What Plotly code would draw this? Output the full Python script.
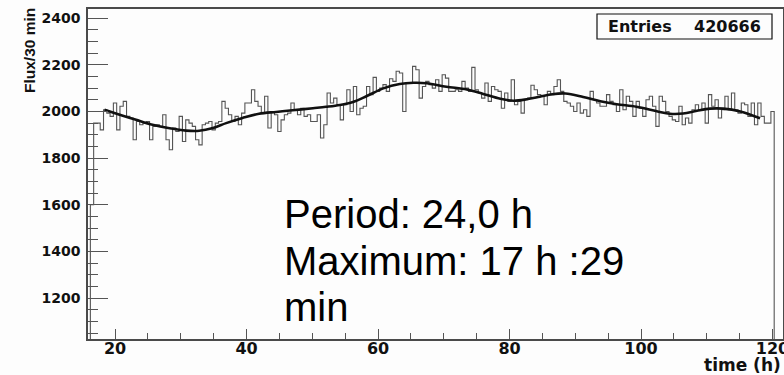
import plotly.graph_objects as go

# Flux histogram: 30-minute bins starting at 16.25 h
bin_start = 16.25
bin_width = 0.5
flux = [
    1600, 1950, 1950, 1921, 2007, 1993, 1979, 2036, 1921, 2022,
    2043, 1979, 1972, 1879, 1957, 1943, 1950, 1957, 1879, 1936,
    1943, 1936, 1986, 1879, 1836, 1929, 1914, 1979, 1871, 1964,
    1950, 1936, 1879, 1857, 1943, 1950, 1957, 1921, 1950, 1957,
    2043, 2014, 1986, 1957, 1979, 1943, 1993, 2036, 2036, 2093,
    2043, 2022, 1993, 2065, 1929, 2000, 1986, 1914, 1964, 1986,
    1993, 2036, 2007, 1986, 2014, 1979, 1986, 1957, 1957, 1986,
    1886, 1943, 2079, 2036, 2057, 2029, 1964, 2029, 2093, 2000,
    2107, 1986, 2014, 2022, 2107, 2072, 2146, 2086, 2100, 2115,
    2086, 2140, 2129, 2172, 2165, 2000, 2122, 2122, 2193, 2179,
    2057, 2107, 2129, 2115, 2100, 2136, 2086, 2157, 2143, 2086,
    2086, 2093, 2086, 2129, 2100, 2086, 2189, 2093, 2079, 2057,
    2122, 2043, 2107, 2093, 2086, 2014, 2079, 2043, 2136, 2029,
    2043, 1993, 2050, 2057, 2112, 2093, 2072, 2065, 2029, 2086,
    2072, 2107, 2136, 2086, 2043, 2036, 2022, 2000, 2036, 1993,
    2007, 1979, 2086, 2050, 2036, 2022, 2022, 2072, 2043, 2029,
    2000, 2093, 2007, 2065, 2043, 1979, 2043, 2014, 1979, 2050,
    2065, 2022, 1936, 2065, 2043, 2000, 1979, 1964, 1957, 2022,
    1943, 1972, 1950, 2007, 2029, 2007, 2036, 1950, 2072, 2022,
    2050, 1972, 2007, 2065, 2007, 2079, 2007, 1993, 2036, 2029,
    1979, 2036, 1943, 2036, 1979, 1950, 1950, 2000,
]

# Periodic fit through the histogram
fit_time = [18.4, 20.7, 23.2, 25.7, 28.3, 30.8, 32.8, 34.9, 36.9, 39.4,
            41.9, 44.5, 47.0, 50.1, 52.1, 54.2, 56.2, 58.3, 60.8, 63.3,
            65.4, 67.4, 70.4, 73.5, 76.0, 78.6, 80.6, 82.6, 84.6, 86.5,
            88.5, 91.2, 93.8, 96.3, 99.3, 102.4, 104.4, 106.4, 108.5, 110.5,
            112.5, 115.1, 118.1]
fit_flux = [2007, 1986, 1964, 1943, 1928, 1918, 1917, 1929, 1950, 1972,
            1990, 1998, 2005, 2014, 2020, 2028, 2041, 2066, 2099, 2118,
            2123, 2121, 2106, 2094, 2075, 2054, 2046, 2052, 2063, 2074,
            2077, 2062, 2044, 2031, 2020, 2001, 1990, 1991, 2003, 2012,
            2012, 2000, 1971]

entries = 420666
period_text = "Period: 24,0 h"
maximum_text = "Maximum: 17 h :29"
maximum_tail = "min"

x_ticks = [20, 40, 60, 80, 100, 120]
y_ticks = [1200, 1400, 1600, 1800, 2000, 2200, 2400]

# Step outline of the histogram, closed down to the floor at both ends
edges = [bin_start + i * bin_width for i in range(len(flux) + 1)]
step_x = [edges[0]] + edges + [edges[-1]]
step_y = [0] + flux + [flux[-1], 0]

W, H = 784, 375
ML, MR, MT, MB = 88, 1, 9, 36
PW, PH = W - ML - MR, H - MT - MB


def px(x):
    return (x - ML) / PW


def py(y):
    return (H - MB - y) / PH


fig = go.Figure()
fig.add_trace(go.Scatter(x=step_x, y=step_y, mode="lines",
                         line=dict(shape="hv", color="#555555", width=1.1),
                         hoverinfo="skip"))
fig.add_trace(go.Scatter(x=fit_time, y=fit_flux, mode="lines",
                         line=dict(shape="spline", color="#111111", width=2.6),
                         hoverinfo="skip"))

fig.update_layout(
    width=W, height=H,
    margin=dict(l=ML, r=MR, t=MT, b=MB),
    paper_bgcolor="#fdfdfd", plot_bgcolor="#fdfdfd",
    showlegend=False,
    xaxis=dict(range=[15.89, 121.59], tickvals=x_ticks, ticks="inside",
               ticklen=10, tickwidth=1.2, tickcolor="#555555",
               showline=True, linecolor="#4a4a4a", linewidth=1.6, mirror=True,
               showgrid=False, zeroline=False, automargin=False,
               ticklabeloverflow="allow", ticklabelstandoff=-6,
               tickfont=dict(family="DejaVu Sans", size=16, color="#111111", weight="bold"),
               minor=dict(dtick=5, tick0=0, ticks="inside", ticklen=6,
                          tickwidth=1, tickcolor="#555555", showgrid=False)),
    yaxis=dict(range=[1025, 2439], tickvals=y_ticks, ticks="inside",
               ticklen=20, tickwidth=1.2, tickcolor="#555555",
               showline=True, linecolor="#4a4a4a", linewidth=1.6, mirror=True,
               showgrid=False, zeroline=False, automargin=False,
               tickfont=dict(family="DejaVu Sans", size=14, color="#111111", weight="bold"),
               ticklabelstandoff=3,
               minor=dict(dtick=50, tick0=0, ticks="inside", ticklen=10,
                          tickwidth=1, tickcolor="#555555", showgrid=False)),
)

# Statistics box
fig.add_shape(type="rect", xref="paper", yref="paper",
              x0=px(597), x1=px(772), y0=py(39), y1=py(14),
              line=dict(color="#111111", width=1.2), fillcolor="#fdfdfd")
box_font = dict(family="DejaVu Sans", size=16, color="#111111", weight="bold")
fig.add_annotation(xref="paper", yref="paper", x=px(606), y=py(26.5),
                   xanchor="left", yanchor="middle", showarrow=False,
                   text="Entries", font=box_font)
fig.add_annotation(xref="paper", yref="paper", x=px(763), y=py(26.5),
                   xanchor="right", yanchor="middle", showarrow=False,
                   text=str(entries), font=box_font)

# Axis titles
fig.add_annotation(xref="paper", yref="paper", x=px(29), y=py(51),
                   xanchor="center", yanchor="middle", showarrow=False,
                   textangle=-90, text="Flux/30 min",
                   font=dict(family="Liberation Sans", size=15.5, color="#111111", weight="bold"))
fig.add_annotation(xref="paper", yref="paper", x=px(783), y=py(365),
                   xanchor="right", yanchor="middle", showarrow=False,
                   text="time (h)",
                   font=dict(family="DejaVu Sans", size=17, color="#111111", weight="bold"))

# Fit result text
big_font = dict(family="Liberation Sans", size=40, color="#000000")
for line, yc in [(period_text, 214), (maximum_text, 261), (maximum_tail, 307)]:
    fig.add_annotation(xref="paper", yref="paper", x=px(282), y=py(yc),
                       xanchor="left", yanchor="middle", showarrow=False,
                       text=line, font=big_font)

fig.write_html("out.html")
